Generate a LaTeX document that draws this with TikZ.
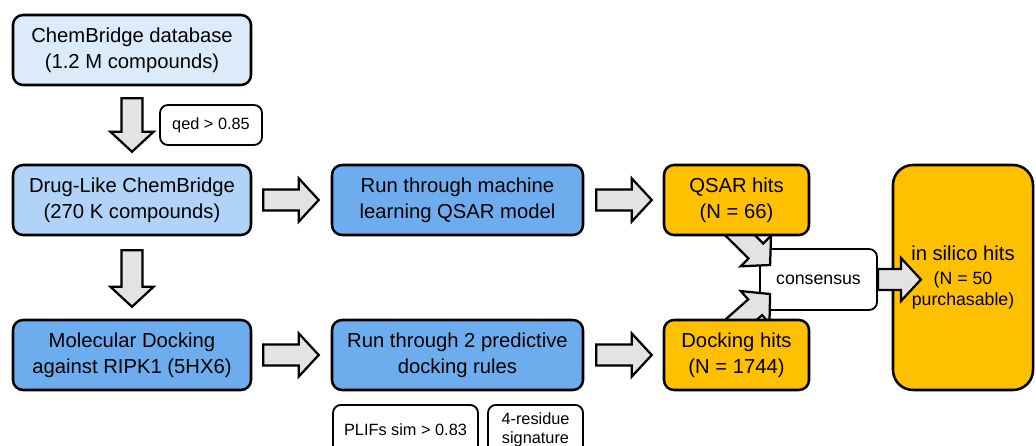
\documentclass[tikz,border=0pt]{standalone}
\usepackage{fontspec}
\setmainfont{Liberation Sans}
\usetikzlibrary{calc}

\definecolor{paleblue}{HTML}{DCEBFA}
\definecolor{lightblue}{HTML}{B0D3F7}
\definecolor{midblue}{HTML}{6DADEE}
\definecolor{hitorange}{HTML}{FFC000}
\definecolor{arrowgray}{HTML}{E3E3E3}

\pgfdeclarelayer{back}
\pgfdeclarelayer{mid}
\pgfsetlayers{back,mid,main}

% fat block arrow from tail to tip
\newcommand{\fatarrow}[2]{%
  \coordinate (fa-t) at (#1);
  \coordinate (fa-h) at (#2);
  \coordinate (fa-b) at ($(fa-h)!0.5cm!(fa-t)$);
  \draw[fat] ($(fa-t)!0.2625cm!90:(fa-h)$) -- ($(fa-b)!0.2625cm!90:(fa-h)$)
    -- ($(fa-b)!0.54cm!90:(fa-h)$) -- (fa-h) -- ($(fa-b)!0.54cm!-90:(fa-h)$)
    -- ($(fa-b)!0.2625cm!-90:(fa-h)$) -- ($(fa-t)!0.2625cm!-90:(fa-h)$) -- cycle;
}

\begin{document}
\begin{tikzpicture}[
    box/.style = {draw, line width=1.8pt, rounded corners=0.25cm, align=center,
      minimum height=1.75cm, inner sep=2pt, font=\fontsize{14.4pt}{18.5pt}\selectfont},
    rule/.style = {draw, line width=1.3pt, rounded corners=0.2cm, fill=white, align=center,
      inner sep=2pt, font=\fontsize{11.6pt}{13pt}\selectfont},
    fat/.style = {draw, line width=1.6pt, fill=arrowgray, line join=miter}]
    \useasboundingbox (0,0) rectangle (25.9,-11.15);
    % Nodes

    \node[box, fill=paleblue, minimum width=5.95cm] (db) at (3.3, -1.25)
      {ChemBridge database\\(1.2 M compounds)};
    \node[rule, minimum width=2.55cm, minimum height=1cm] (qed) at (5.275, -3.125)
      {qed > 0.85};
    \node[box, fill=lightblue, minimum width=5.95cm] (drug) at (3.3, -5)
      {Drug-Like ChemBridge\\(270 K compounds)};
    \node[box, fill=midblue, minimum width=5.95cm] (dock) at (3.3, -8.875)
      {Molecular Docking\\against RIPK1 (5HX6)};

    \node[box, fill=midblue, minimum width=6.275cm] (ml) at (11.4375, -5)
      {Run through machine\\learning QSAR model};
    \node[box, fill=midblue, minimum width=6.275cm] (rules) at (11.4375, -8.875)
      {Run through 2 predictive\\docking rules};
    \node[rule, minimum width=3.625cm, minimum height=1.25cm, anchor=north] (plifs) at (10.1375, -10.1)
      {PLIFs sim > 0.83};
    \node[rule, minimum width=2.375cm, minimum height=1.25cm, anchor=north] (sig) at (13.3875, -10.1)
      {4-residue\\signature};

    \node[box, fill=hitorange, minimum width=3.625cm] (qsar) at (18.4125, -5)
      {QSAR hits\\(N = 66)};
    \node[box, fill=hitorange, minimum width=3.625cm] (dockhits) at (18.4125, -8.875)
      {Docking hits\\(N = 1744)};

    \begin{pgfonlayer}{back}
    \node[box, fill=hitorange, minimum width=3.5cm, minimum height=5.625cm,
      rounded corners=0.5cm] (insilico) at (24.075, -6.9375)
      {in silico hits\\[-1.5pt]{\fontsize{12.6pt}{15pt}\selectfont (N = 50}\\[-3pt]
       {\fontsize{12.6pt}{15pt}\selectfont purchasable)}};
    \node[box, fill=white, line width=1.3pt, minimum width=2.925cm, minimum height=1.525cm,
      rounded corners=0.2cm, font=\fontsize{12.6pt}{15pt}\selectfont] (cons) at (20.4625, -6.9875)
      {consensus};
    \end{pgfonlayer}

    % Edges
    \begin{pgfonlayer}{mid}
    \fatarrow{$(db.south)+(0,-0.3)$}{$(drug.north)+(0,0.3)$}
    \fatarrow{$(drug.south)+(0,-0.35)$}{$(dock.north)+(0,0.3)$}

    \fatarrow{$(drug.east)+(0.275,0)$}{$(ml.west)+(-0.3,0)$}
    \fatarrow{$(dock.east)+(0.275,0)$}{$(rules.west)+(-0.3,0)$}
    \fatarrow{$(ml.east)+(0.3,0)$}{$(qsar.west)+(-0.275,0)$}
    \fatarrow{$(rules.east)+(0.3,0)$}{$(dockhits.west)+(-0.275,0)$}

    \fatarrow{$(qsar.south)+(-0.14,0.25)$}{$(cons.west)+(0.275,0.3625)$}
    \fatarrow{$(dockhits.north)+(-0.14,-0.25)$}{$(cons.west)+(0.275,-0.3625)$}
    \fatarrow{cons.east}{$(cons.east)+(1.075,0)$}
    \end{pgfonlayer}

\end{tikzpicture}
\end{document}
